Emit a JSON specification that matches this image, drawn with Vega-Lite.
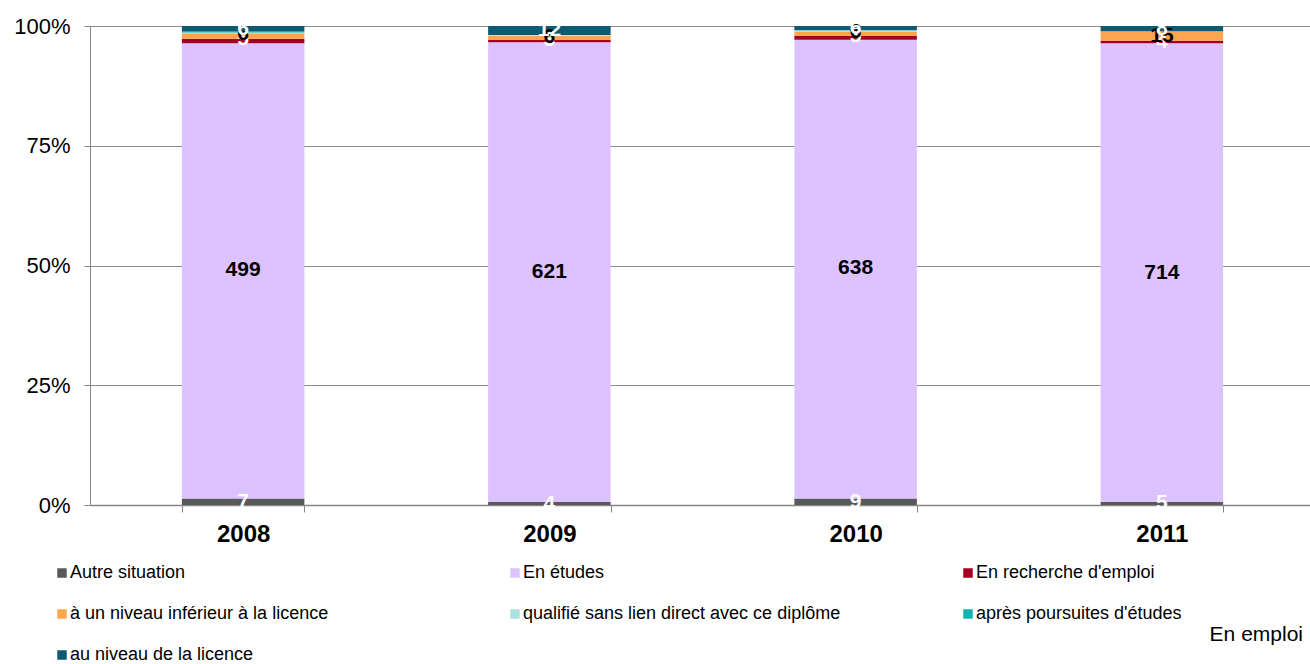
{
  "$schema": "https://vega.github.io/schema/vega-lite/v6.json",
  "autosize": "none",
  "width": 1225,
  "height": 479,
  "padding": {"left": 90, "top": 26, "right": 0, "bottom": 159},
  "background": "white",
  "config": {
    "font": "Liberation Sans",
    "view": {"stroke": null}
  },
  "title": {
    "text": "En emploi",
    "orient": "bottom",
    "anchor": "end",
    "fontSize": 21,
    "fontWeight": "normal",
    "color": "#000000",
    "offset": -40,
    "dx": -12
  },
  "data": {
    "values": [
      {"year": "2008", "s": "Autre situation", "v": 7, "o": 1},
      {"year": "2008", "s": "En études", "v": 499, "o": 2},
      {"year": "2008", "s": "En recherche d'emploi", "v": 5, "o": 3},
      {"year": "2008", "s": "à un niveau inférieur à la licence", "v": 6, "o": 4},
      {"year": "2008", "s": "qualifié sans lien direct avec ce diplôme", "v": 1, "o": 5},
      {"year": "2008", "s": "après poursuites d'études", "v": 1, "o": 6},
      {"year": "2008", "s": "au niveau de la licence", "v": 6, "o": 7},
      {"year": "2009", "s": "Autre situation", "v": 4, "o": 1},
      {"year": "2009", "s": "En études", "v": 621, "o": 2},
      {"year": "2009", "s": "En recherche d'emploi", "v": 3, "o": 3},
      {"year": "2009", "s": "à un niveau inférieur à la licence", "v": 6, "o": 4},
      {"year": "2009", "s": "qualifié sans lien direct avec ce diplôme", "v": 1, "o": 5},
      {"year": "2009", "s": "après poursuites d'études", "v": 0, "o": 6},
      {"year": "2009", "s": "au niveau de la licence", "v": 12, "o": 7},
      {"year": "2010", "s": "Autre situation", "v": 9, "o": 1},
      {"year": "2010", "s": "En études", "v": 638, "o": 2},
      {"year": "2010", "s": "En recherche d'emploi", "v": 5, "o": 3},
      {"year": "2010", "s": "à un niveau inférieur à la licence", "v": 6, "o": 4},
      {"year": "2010", "s": "qualifié sans lien direct avec ce diplôme", "v": 2, "o": 5},
      {"year": "2010", "s": "après poursuites d'études", "v": 0, "o": 6},
      {"year": "2010", "s": "au niveau de la licence", "v": 6, "o": 7},
      {"year": "2011", "s": "Autre situation", "v": 5, "o": 1},
      {"year": "2011", "s": "En études", "v": 714, "o": 2},
      {"year": "2011", "s": "En recherche d'emploi", "v": 4, "o": 3},
      {"year": "2011", "s": "à un niveau inférieur à la licence", "v": 15, "o": 4},
      {"year": "2011", "s": "qualifié sans lien direct avec ce diplôme", "v": 0, "o": 5},
      {"year": "2011", "s": "après poursuites d'études", "v": 0, "o": 6},
      {"year": "2011", "s": "au niveau de la licence", "v": 8, "o": 7}
    ]
  },
  "encoding": {
    "x": {
      "field": "year",
      "type": "nominal",
      "scale": {"paddingInner": 0.6, "paddingOuter": 0.3},
      "axis": {
        "title": null,
        "labelAngle": 0,
        "labelFontSize": 24,
        "labelFontWeight": "bold",
        "labelColor": "#000000",
        "labelPadding": 10,
        "tickBand": "extent",
        "tickSize": 7,
        "tickColor": "#868686",
        "domainColor": "#868686",
        "domainWidth": 1.5
      }
    },
    "y": {
      "field": "v",
      "type": "quantitative",
      "stack": "normalize",
      "scale": {"domain": [0, 1], "nice": false},
      "axis": {
        "title": null,
        "format": "%",
        "values": [0, 0.25, 0.5, 0.75, 1],
        "labelFontSize": 22,
        "labelColor": "#000000",
        "labelPadding": 14,
        "tickSize": 6,
        "tickColor": "#868686",
        "domainColor": "#868686",
        "grid": true,
        "gridColor": "#8c8c8c",
        "gridWidth": 1.2
      }
    },
    "order": {"field": "o", "type": "quantitative"}
  },
  "layer": [
    {
      "mark": {"type": "bar"},
      "encoding": {
        "color": {
          "field": "s",
          "type": "nominal",
          "sort": ["Autre situation", "En études", "En recherche d'emploi", "à un niveau inférieur à la licence", "qualifié sans lien direct avec ce diplôme", "après poursuites d'études", "au niveau de la licence"],
          "scale": {
            "domain": ["Autre situation", "En études", "En recherche d'emploi", "à un niveau inférieur à la licence", "qualifié sans lien direct avec ce diplôme", "après poursuites d'études", "au niveau de la licence"],
            "range": ["#595959", "#dcc2ff", "#a50021", "#ffa54f", "#a8e2e0", "#10b4b4", "#0d5b73"]
          },
          "legend": {
            "title": null,
            "orient": "none",
            "direction": "horizontal",
            "legendX": -37,
            "legendY": 538,
            "columns": 3,
            "gridAlign": "all",
            "columnPadding": 118,
            "rowPadding": 23,
            "symbolType": "square",
            "symbolSize": 90,
            "symbolStrokeWidth": 0,
            "labelFontSize": 18,
            "labelColor": "#000000",
            "labelOffset": -1,
            "labelLimit": 400,
            "padding": 0
          }
        }
      }
    },
    {
      "transform": [
        {"filter": "datum.v > 0 && datum.s !== 'qualifié sans lien direct avec ce diplôme' && datum.s !== 'après poursuites d\\'études'"}
      ],
      "mark": {"type": "text", "fontSize": 21, "fontWeight": "bold", "baseline": "middle"},
      "encoding": {
        "y": {"field": "v", "type": "quantitative", "stack": "normalize", "bandPosition": 0.5},
        "text": {"field": "v", "type": "quantitative"},
        "color": {
          "condition": {"test": "datum.s === 'En études' || datum.s === 'à un niveau inférieur à la licence'", "value": "#000000"},
          "value": "#ffffff"
        }
      }
    }
  ]
}
